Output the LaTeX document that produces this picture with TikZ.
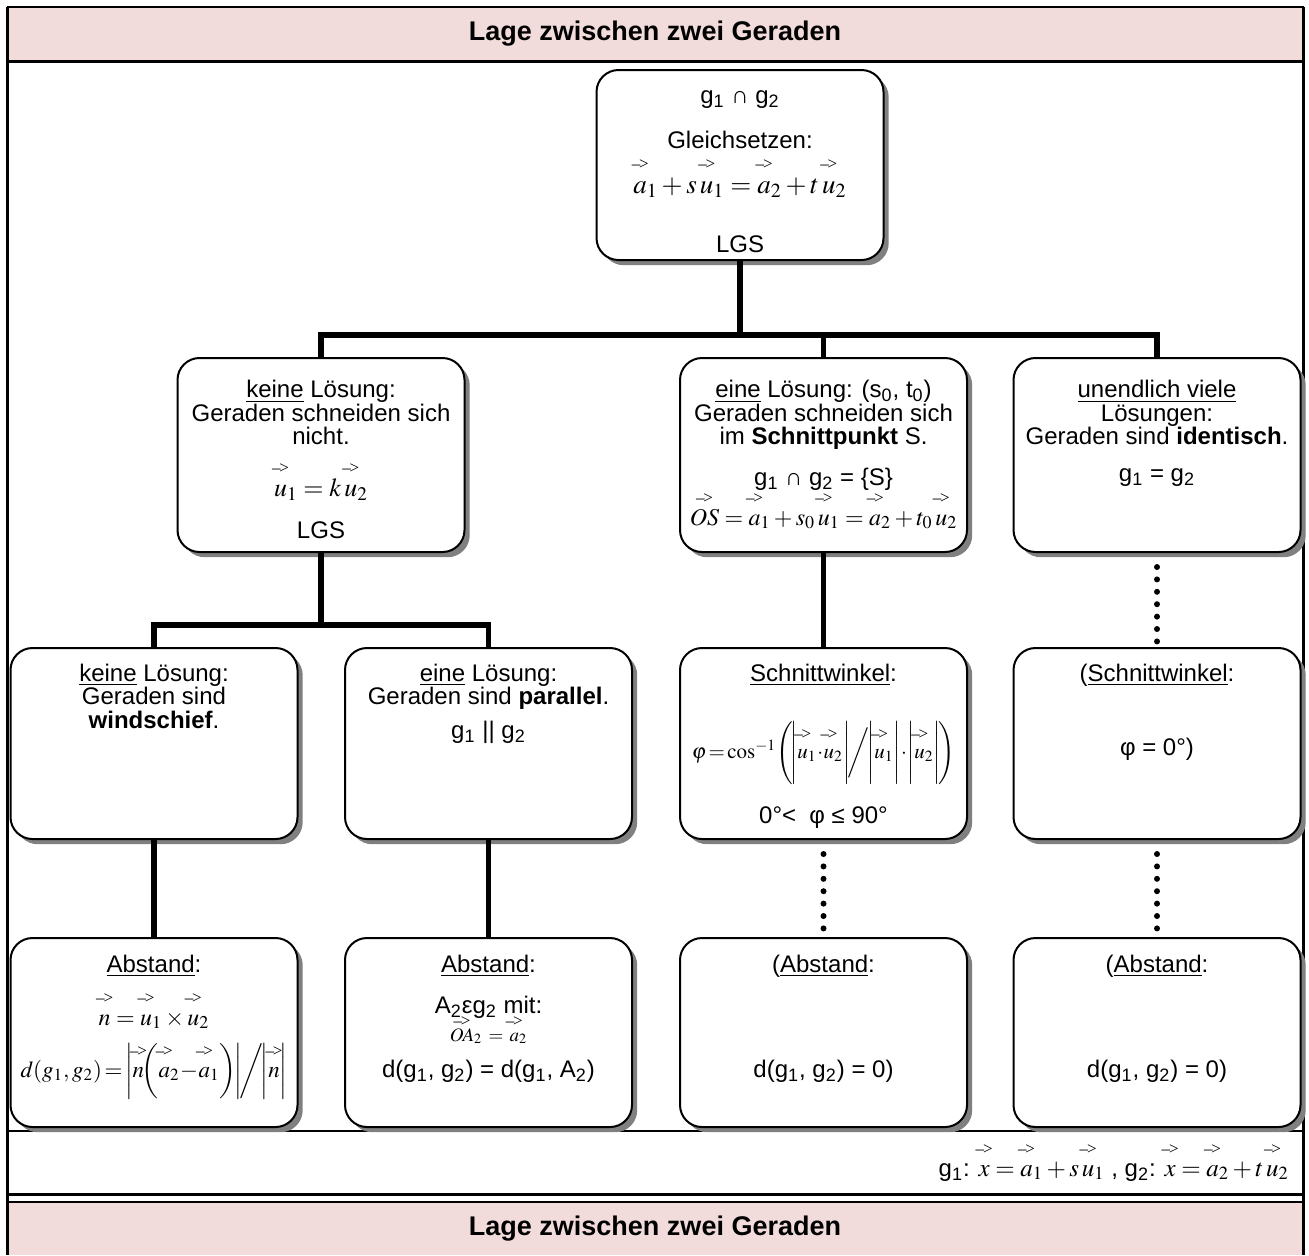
\documentclass[tikz,border=0pt]{standalone}
\usepackage{amsmath}
\usepackage{mathptmx}
\usepackage[no-math]{fontspec}
\setmainfont{Liberation Sans}
\newfontfamily\pfeilfont{Liberation Serif}
\usetikzlibrary{shadows}

\definecolor{kopfrosa}{HTML}{F2DCDB}

% Vektorpfeil wie im Formeleditor: -> in fester Hoehe ueber dem Buchstaben
\newcommand{\pfeil}{\pfeilfont\fontsize{8.5}{8.5}\selectfont –\kern-.6pt>}
\newcommand{\pfeilh}{.88em}
\newcommand{\vek}[1]{\mathord{\setbox0=\hbox{$#1$}%
  \hbox to\wd0{\hss\raisebox{\pfeilh}[0pt][0pt]{\pfeil}\hss}\kern-\wd0\box0}}
\newcommand{\fm}[2][12]{\mbox{\fontsize{#1}{11.75}\selectfont$#2$}}
\newcommand{\ix}[1]{\textsubscript{#1}}
% Inhalt einer Box: Hoehe, Abstand oben, Zeilen
\newcommand{\boxtxt}[4][143.5pt]{\begin{minipage}[c][#2][t]{#1}\centering\lineskiplimit=-50pt
  \vspace*{#3}\rule{0pt}{10pt}#4\end{minipage}}

\begin{document}
\begin{tikzpicture}[x=0.5pt,y=-0.5pt,font=\fontsize{12}{11.75}\selectfont,
    box/.style={draw,line width=1pt,rounded corners=11pt,fill=white,inner sep=0pt,
      drop shadow={shadow xshift=2.6pt,shadow yshift=-2.6pt,fill=black!50,opacity=1}},
    linie/.style={line width=2.6pt},
    punkte/.style={line width=3pt,line cap=round,dash pattern=on 0pt off 6.2pt,
      shorten <=7pt,shorten >=1pt},
    titel/.style={font=\fontsize{13.5}{14}\selectfont\bfseries}]
  \useasboundingbox (0,0) rectangle (1309,1255);

  % Rahmen
  \fill[kopfrosa] (7,7) rectangle (1303.5,61);
  \fill[kopfrosa] (7,1202) rectangle (1303.5,1255);
  \draw[line width=1pt] (7,7) -- (1303.5,7);
  \draw[line width=1.5pt] (7,61) -- (1303.5,61);
  \draw[line width=0.8pt] (7,1131) -- (1303.5,1131);
  \draw[line width=1.5pt] (7,1194) -- (1303.5,1194);
  \draw[line width=0.8pt] (7,1202) -- (1303.5,1202);
  \draw[line width=1.5pt] (7,7) -- (7,1255) (1303.5,7) -- (1303.5,1255);

  \node[titel] (kopf) at (655,34) {Lage zwischen zwei Geraden};
  \node[titel] (fuss) at (655,1229) {Lage zwischen zwei Geraden};

  % Ebene 0
  \node[box] (schnitt) at (740,165) {\boxtxt{95pt}{6.5pt}{%
    g\ix{1} ∩ g\ix{2}\\[10.75pt]
    Gleichsetzen:\\[10.75pt]
    \fm[13.5]{\vek{a}_1+s\,\vek{u}_1=\vek{a}_2+t\,\vek{u}_2}\\[17.75pt]
    LGS}};

  % Ebene 1
  \node[box] (keine) at (321,455) {\boxtxt{97pt}{9.75pt}{%
    \underline{keine} Lösung:\\
    Geraden schneiden sich\\
    nicht.\\[14.25pt]
    \fm[13]{\vek{u}_1=k\,\vek{u}_2}\\[9.25pt]
    LGS}};
  \node[box] (eine) at (823.5,455) {\boxtxt{97pt}{9.75pt}{%
    \underline{eine} Lösung: (s\ix{0}, t\ix{0})\\
    Geraden schneiden sich\\
    im \textbf{Schnittpunkt} S.\\[8.5pt]
    g\ix{1} ∩ g\ix{2} = \{S\}\\[8.25pt]
    \fm{\vek{OS}=\vek{a}_1+s_0\,\vek{u}_1=\vek{a}_2+t_0\,\vek{u}_2}}};
  \node[box] (unendl) at (1157,455) {\boxtxt{97pt}{9.75pt}{%
    \underline{unendlich viele}\\
    Lösungen:\\
    Geraden sind \textbf{identisch}.\\[6.75pt]
    g\ix{1} = g\ix{2}}};

  % Ebene 2
  \node[box] (wind) at (154,743.5) {\boxtxt{95.5pt}{6.5pt}{%
    \underline{keine} Lösung:\\
    Geraden sind\\
    \textbf{windschief}.}};
  \node[box] (par) at (488.5,743.5) {\boxtxt{95.5pt}{6.5pt}{%
    \underline{eine} Lösung:\\
    Geraden sind \textbf{parallel}.\\[5pt]
    g\ix{1} || g\ix{2}}};
  \node[box] (winkel) at (823.5,743.5) {\boxtxt{95.5pt}{6.5pt}{%
    \underline{Schnittwinkel}:\\[26.75pt]
    \fm[10.5]{\varphi\!=\!\cos^{-1}\!\Bigg(\!\Bigg|\vek{u}_1\!\cdot\!\vek{u}_2\Bigg|\!\bigg/\!\Bigg|\vek{u}_1\Bigg|\!\cdot\!\Bigg|\vek{u}_2\Bigg|\!\Bigg)}\\[20.75pt]
    0°<~ φ ≤ 90°}};
  \node[box] (winkel0) at (1157,743.5) {\boxtxt{95.5pt}{6.5pt}{%
    (\underline{Schnittwinkel}:\\[25.25pt]
    φ = 0°)}};

  % Ebene 3
  \node[box] (abst) at (154,1032.5) {\boxtxt{94.5pt}{7pt}{%
    \underline{Abstand}:\\[14.75pt]
    \fm{\vek{n}=\vek{u}_1\times\vek{u}_2}\\[14.25pt]
    \fm[11.5]{d(g_1,g_2)\!=\!\bigg|\vek{n}\!\bigg(\vek{a}_2\!-\!\vek{a}_1\bigg)\!\bigg|\!\bigg/\!\bigg|\vek{n}\bigg|}}};
  \node[box] (abstpar) at (488.5,1032.5) {\boxtxt{94.5pt}{7pt}{%
    \underline{Abstand}:\\[8.75pt]
    A\ix{2}εg\ix{2} mit:\\[2.25pt]
    \mbox{\fontsize{9.5}{11.75}\selectfont\renewcommand{\pfeilh}{.78em}$\vek{OA}_2\,=\,\vek{a}_2$}\\[6.25pt]
    d(g\ix{1}, g\ix{2}) = d(g\ix{1}, A\ix{2})}};
  \node[box] (abst0) at (823.5,1032.5) {\boxtxt{94.5pt}{7pt}{%
    (\underline{Abstand}:\\[40.75pt]
    d(g\ix{1}, g\ix{2}) = 0)}};
  \node[box] (abstid) at (1157,1032.5) {\boxtxt{94.5pt}{7pt}{%
    (\underline{Abstand}:\\[40.75pt]
    d(g\ix{1}, g\ix{2}) = 0)}};

  \node[anchor=base east] (gleich) at (1296,1176) {g\ix{1}: \fm[12.5]{\vek{x}=\vek{a}_1+s\,\vek{u}_1}\;,
    g\ix{2}: \fm[12.5]{\vek{x}=\vek{a}_2+t\,\vek{u}_2}};

  % Verbindungen
  \coordinate (j1) at (740,335);
  \coordinate (j2) at (321,625);
  \draw[linie] (schnitt.south) -- (j1);
  \draw[linie] (keine.north) |- (j1) -| (unendl.north);
  \draw[linie] (eine.north) -- (eine.north |- j1);
  \draw[linie] (keine.south) -- (j2);
  \draw[linie] (wind.north) |- (j2) -| (par.north);
  \draw[linie] (eine.south) -- (winkel.north);
  \draw[punkte] (unendl.south) -- (winkel0.north);
  \draw[linie] (wind.south) -- (abst.north);
  \draw[linie] (par.south) -- (abstpar.north);
  \draw[punkte] (winkel.south) -- (abst0.north);
  \draw[punkte] (winkel0.south) -- (abstid.north);
\end{tikzpicture}
\end{document}
